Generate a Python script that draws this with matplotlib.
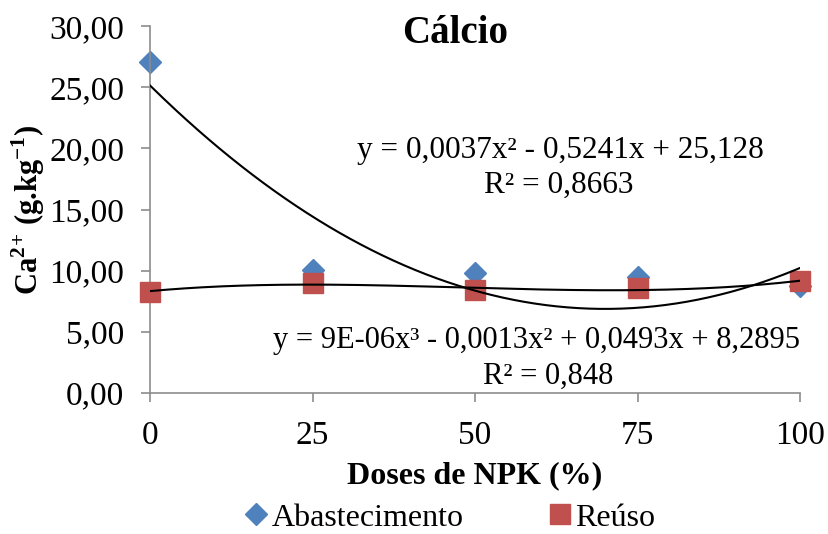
import numpy as np
import matplotlib
matplotlib.use("Agg")
import matplotlib.pyplot as plt
from matplotlib.ticker import FuncFormatter

plt.rcParams['font.family'] = ['Liberation Serif', 'DejaVu Serif']
plt.rcParams['mathtext.fontset'] = 'custom'
plt.rcParams['mathtext.rm'] = 'Liberation Serif'
plt.rcParams['mathtext.bf'] = 'Liberation Serif:bold'

# data
doses = [0, 25, 50, 75, 100]
abastecimento = [27.1, 10.05, 9.8, 9.45, 8.75]
reuso = [8.3, 9.0, 8.4, 8.55, 9.15]

eq_abast = "y = 0,0037x² - 0,5241x + 25,128"
r2_abast = "R² = 0,8663"
eq_reuso = "y = 9E-06x³ - 0,0013x² + 0,0493x + 8,2895"
r2_reuso = "R² = 0,848"

blue = '#4F81BD'
red = '#C0504D'

fig = plt.figure(figsize=(8.29, 5.34), dpi=100)
ax = fig.add_axes([0.181, 0.264, 0.784, 0.687])

ax.plot(doses, abastecimento, 'D', color=blue, ms=11, mec=blue, label='Abastecimento',
        zorder=2, clip_on=False)
ax.plot(doses, reuso, 's', color=red, ms=14.5, mec=red, label='Reúso', zorder=3, clip_on=False)

# trend lines (polynomial fits of the series, as in the original spreadsheet)
xs = np.linspace(0, 100, 300)
c2 = np.polyfit(doses, abastecimento, 2)
c3 = np.polyfit(doses, reuso, 3)
ax.plot(xs, np.polyval(c2, xs), color='black', lw=1.5, zorder=4)
ax.plot(xs, np.polyval(c3, xs), color='black', lw=1.5, zorder=4)

ax.set_xlim(0, 100)
ax.set_ylim(0, 30)
ax.set_xticks(doses)
ax.set_yticks(np.arange(0, 31, 5))
ax.yaxis.set_major_formatter(FuncFormatter(lambda v, p: f"{v:.2f}".replace('.', ',')))
ax.tick_params(axis='both', labelsize=24, color='#8c8c8c', length=6.5, width=1.2, direction='out')
ax.tick_params(axis='x', pad=13)
ax.tick_params(axis='y', pad=12)
for s in ['top', 'right']:
    ax.spines[s].set_visible(False)
for s in ['left', 'bottom']:
    ax.spines[s].set_color('#8c8c8c')
    ax.spines[s].set_linewidth(1.2)

ax.set_xlabel('Doses de NPK (%)', fontsize=23, fontweight='bold', labelpad=8)
ax.set_ylabel('Ca$^{\\mathbf{2}}$$^{\\mathbf{+}}$ (g.kg$^{\\mathbf{-1}}$)', fontsize=22,
              fontweight='bold', labelpad=2)

fig.text(0.549, 0.938, 'Cálcio', fontsize=28, fontweight='bold', ha='center', va='center')

fig.text(0.676, 0.719, eq_abast, fontsize=22.5, ha='center', va='center')
fig.text(0.674, 0.653, r2_abast, fontsize=22.5, ha='center', va='center')
fig.text(0.647, 0.363, eq_reuso, fontsize=22, ha='center', va='center')
fig.text(0.661, 0.296, r2_reuso, fontsize=22, ha='center', va='center')

leg = fig.legend(loc='center', bbox_to_anchor=(0.54, 0.03), ncol=2, frameon=False,
                 fontsize=23, handletextpad=0.0, columnspacing=2.5, handlelength=1.0,
                 borderpad=0.2)

fig.savefig('out.png', dpi=100)
